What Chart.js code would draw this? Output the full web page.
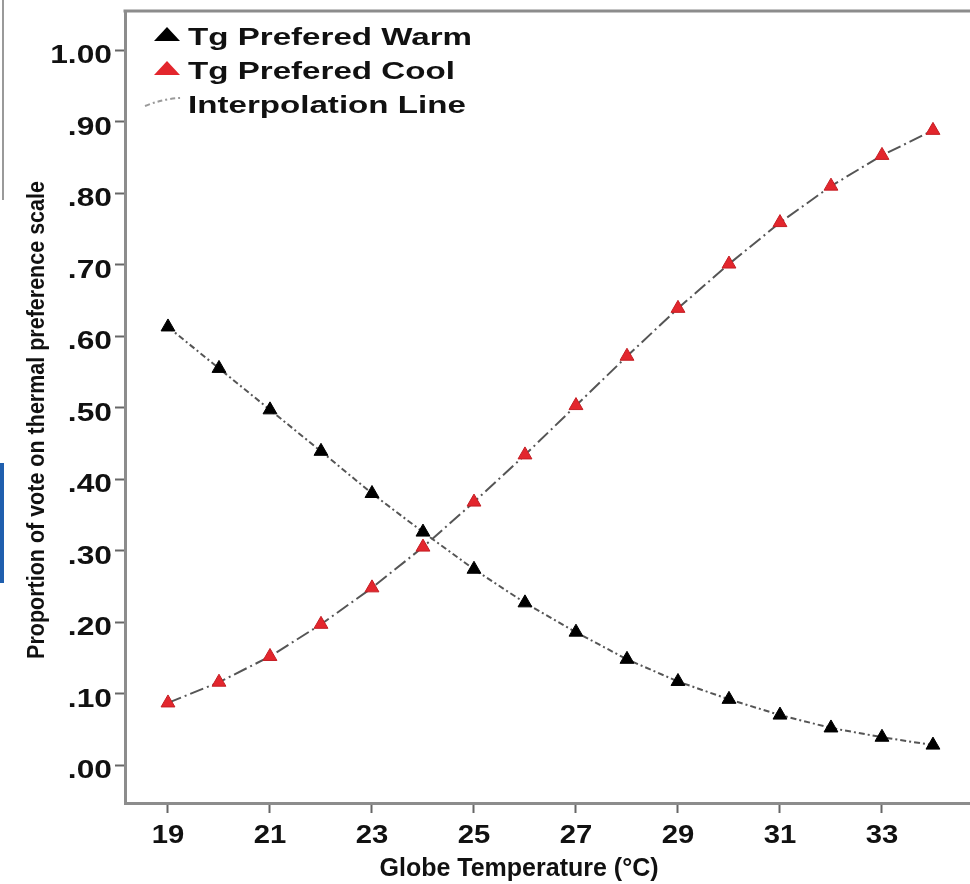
<!DOCTYPE html>
<html>
<head>
<meta charset="utf-8">
<script src="https://cdn.jsdelivr.net/npm/chart.js@4.4.0/dist/chart.umd.min.js"></script>
<style>
  html, body { margin: 0; padding: 0; background: #fff; overflow: hidden; }
  #wrap { width: 970px; height: 884px; position: relative; }
</style>
</head>
<body>
<div id="wrap"><canvas id="chart"></canvas></div>
<script>
// globe temperature (x) and proportion of votes (y)
var temps = [19, 20, 21, 22, 23, 24, 25, 26, 27, 28, 29, 30, 31, 32, 33, 34];
var warmVotes = [0.613, 0.555, 0.497, 0.439, 0.380, 0.326, 0.274, 0.227, 0.186, 0.148, 0.117, 0.092, 0.070, 0.052, 0.039, 0.028];
var coolVotes = [0.087, 0.116, 0.152, 0.197, 0.248, 0.305, 0.368, 0.434, 0.503, 0.572, 0.639, 0.701, 0.759, 0.810, 0.853, 0.888];

var xTickValues = [19, 21, 23, 25, 27, 29, 31, 33];
var xTickLabels = ["19", "21", "23", "25", "27", "29", "31", "33"];
var yTickValues = [0, 0.1, 0.2, 0.3, 0.4, 0.5, 0.6, 0.7, 0.8, 0.9, 1.0];
var yTickLabels = [".00", ".10", ".20", ".30", ".40", ".50", ".60", ".70", ".80", ".90", "1.00"];

var seriesNames = ["Tg Prefered Warm", "Tg Prefered Cool", "Interpolation Line"];
var xTitle = "Globe Temperature (\u00B0C)";
var yTitle = "Proportion of vote on thermal preference scale";

var FONT = "'Liberation Sans', Arial, sans-serif";
var AXIS_GRAY = "#8c8c8c";
var LINE_GRAY = "#555555";
var RED = "#e3262d";

function points(ys) {
    return temps.map(function(t, i) { return { x: t, y: ys[i] }; });
}

// the figure is a stretched screenshot, so its text is wider than normal
function wideText(ctx, text, x, y, sx, align) {
    ctx.save();
    ctx.translate(x, y);
    ctx.scale(sx, 1);
    ctx.textAlign = align;
    ctx.fillText(text, 0, 0);
    ctx.restore();
}

// tick labels, legend, titles, top frame line and the bits at the left edge
var decor = {
    id: "decor",
    afterDraw: function(chart) {
        var ctx = chart.ctx;
        var area = chart.chartArea;
        var xs = chart.scales.x;
        var ys = chart.scales.y;
        ctx.save();

        // top frame
        ctx.strokeStyle = AXIS_GRAY;
        ctx.lineWidth = 3;
        ctx.beginPath();
        ctx.moveTo(area.left - 1.5, area.top);
        ctx.lineTo(area.right, area.top);
        ctx.stroke();

        // left edge leftovers from the page the figure was cut from
        ctx.fillStyle = "#9a9a9a";
        ctx.fillRect(2, 0, 2, 200);
        ctx.fillStyle = "#1f5fae";
        ctx.fillRect(0, 463, 4, 120);

        // tick labels
        ctx.fillStyle = "#111";
        ctx.font = "bold 25px " + FONT;
        ctx.textBaseline = "alphabetic";
        yTickValues.forEach(function(v, i) {
            wideText(ctx, yTickLabels[i], area.left - 13, ys.getPixelForValue(v) + 13, 1.27, "right");
        });
        xTickValues.forEach(function(v, i) {
            wideText(ctx, xTickLabels[i], xs.getPixelForValue(v), 843, 1.17, "center");
        });

        // legend
        var lx = area.left + 42;
        var rows = [area.top + 25, area.top + 59, area.top + 93];
        var fills = ["#000", RED];
        for (var i = 0; i < 2; i++) {
            ctx.fillStyle = fills[i];
            ctx.beginPath();
            ctx.moveTo(lx, rows[i] - 9);
            ctx.lineTo(lx + 13, rows[i] + 5);
            ctx.lineTo(lx - 13, rows[i] + 5);
            ctx.closePath();
            ctx.fill();
        }
        ctx.strokeStyle = "#9a9a9a";
        ctx.lineWidth = 2;
        ctx.setLineDash([5, 3, 2, 3]);
        ctx.beginPath();
        ctx.moveTo(lx - 22, rows[2] + 2);
        ctx.quadraticCurveTo(lx - 2, rows[2] - 6, lx + 15, rows[2] - 6);
        ctx.stroke();
        ctx.setLineDash([]);

        ctx.fillStyle = "#111";
        ctx.font = "bold 24px " + FONT;
        for (var j = 0; j < seriesNames.length; j++) {
            wideText(ctx, seriesNames[j], lx + 21, rows[j] + 9, 1.38, "left");
        }

        // x title
        ctx.font = "bold 25px " + FONT;
        ctx.textAlign = "center";
        ctx.fillText(xTitle, 519, 876);

        // y title
        ctx.translate(37, 420);
        ctx.rotate(-Math.PI / 2);
        ctx.scale(1, 1.15);
        ctx.font = "bold 21.5px " + FONT;
        ctx.textBaseline = "middle";
        ctx.fillText(yTitle, 0, 0);
        ctx.restore();
    }
};

new Chart(document.getElementById("chart"), {
    type: "scatter",
    data: {
        datasets: [{
            label: seriesNames[0],
            data: points(warmVotes),
            showLine: true,
            borderColor: LINE_GRAY,
            borderWidth: 2,
            borderDash: [6, 3, 2, 3],
            pointStyle: "triangle",
            pointRadius: 8,
            pointBackgroundColor: "#000",
            pointBorderColor: "#000",
            pointBorderWidth: 1,
            tension: 0
        }, {
            label: seriesNames[1],
            data: points(coolVotes),
            showLine: true,
            borderColor: LINE_GRAY,
            borderWidth: 2,
            borderDash: [14, 4, 2, 4],
            pointStyle: "triangle",
            pointRadius: 8,
            pointBackgroundColor: RED,
            pointBorderColor: "#c41d23",
            pointBorderWidth: 1,
            tension: 0
        }]
    },
    options: {
        responsive: true,
        maintainAspectRatio: false,
        animation: false,
        layout: { autoPadding: false, padding: { top: 11, right: 0, bottom: 0, left: 0 } },
        plugins: {
            legend: { display: false },
            tooltip: { enabled: false }
        },
        scales: {
            x: {
                type: "linear",
                min: 18.157,
                max: 34.726,
                afterBuildTicks: function(scale) {
                    scale.ticks = xTickValues.map(function(v) { return { value: v }; });
                },
                afterFit: function(scale) {
                    scale.height = 81;
                    scale.paddingLeft = 0;
                    scale.paddingRight = 0;
                },
                grid: { drawOnChartArea: false, drawTicks: true, tickLength: 10, tickColor: "#666", tickWidth: 2 },
                border: { color: AXIS_GRAY, width: 3 },
                ticks: { display: false }
            },
            y: {
                min: -0.053,
                max: 1.055,
                afterBuildTicks: function(scale) {
                    scale.ticks = yTickValues.map(function(v) { return { value: v }; });
                },
                afterFit: function(scale) {
                    scale.width = 125;
                    scale.paddingTop = 0;
                    scale.paddingBottom = 0;
                },
                grid: { drawOnChartArea: false, drawTicks: true, tickLength: 10, tickColor: "#666", tickWidth: 2 },
                border: { color: AXIS_GRAY, width: 3 },
                ticks: { display: false }
            }
        }
    },
    plugins: [decor]
});
</script>
</body>
</html>
